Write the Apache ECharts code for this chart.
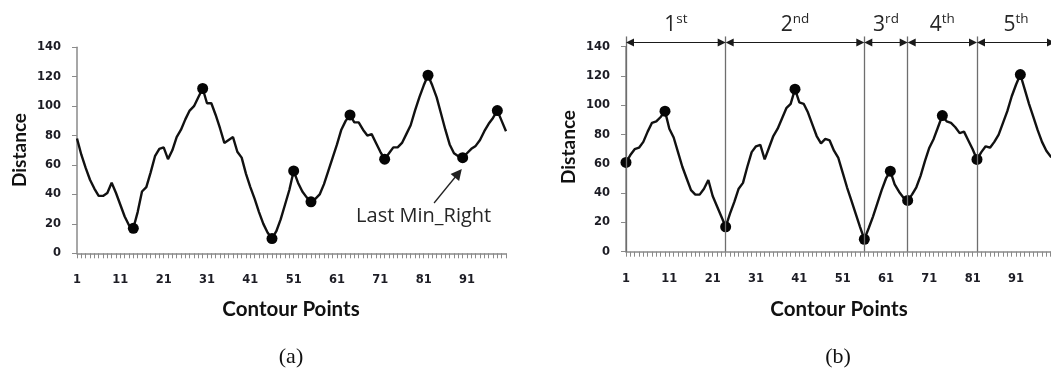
<!DOCTYPE html>
<html>
<head>
<meta charset="utf-8">
<script src="https://cdn.jsdelivr.net/npm/echarts@6/dist/echarts.min.js"></script>
<style>
  html, body { margin: 0; padding: 0; background: #ffffff; }
  #chart { width: 1051px; height: 374px; }
</style>
</head>
<body>
<div id="chart"></div>
<script>
// Contour point numbers shown on the x axis (1 ... 100)
const contourPoints = Array.from({ length: 100 }, (_, i) => String(i + 1));

// Distance ticks on the y axis
const distanceTicks = [0, 20, 40, 60, 80, 100, 120, 140];

// (a) distance profile along the contour
const distanceA = [
  78, 67, 58, 50, 44, 39, 39, 41, 48, 41,
  33, 25, 19, 17, 28, 42, 45, 55, 66, 71,
  72, 64, 70, 79, 84, 91, 97, 100, 106, 112,
  102, 102, 94, 85, 75, 77, 79, 69, 65, 54,
  45, 37, 28, 20, 14, 10, 15, 23, 33, 43,
  56, 48, 42, 38, 35, 37, 40, 47, 56, 65,
  74, 84, 90, 94, 89, 89, 84, 80, 81, 75,
  69, 64, 68, 72, 72, 75, 81, 87, 97, 106,
  114, 121, 114, 106, 95, 84, 74, 68, 66, 65,
  68, 71, 73, 77, 83, 88, 92, 97, 90, 83
];
// (a) local minima / maxima (contour point numbers)
const extremaA = [14, 30, 46, 51, 55, 64, 72, 82, 90, 98];

// (b) distance profile, restarted at the last right minimum
const distanceB = [
  61, 66, 70, 71, 75, 82, 88, 89, 92, 96,
  84, 78, 68, 58, 50, 42, 39, 39, 43, 49,
  38, 31, 24, 17, 26, 34, 43, 47, 58, 68,
  72, 73, 63, 71, 79, 84, 91, 98, 101, 111,
  102, 101, 95, 87, 79, 74, 77, 76, 69, 64,
  54, 44, 35, 26, 17, 8.5, 16, 24, 33, 42,
  50, 55, 46, 41, 37, 35, 39, 44, 52, 62,
  71, 77, 85, 93, 89, 88, 85, 81, 82, 76,
  70, 63, 68, 72, 71, 75, 80, 88, 96, 106,
  114, 121, 111, 101, 92, 83, 75, 69, 65, 64
];
// (b) local minima / maxima
const extremaB = [1, 10, 24, 40, 56, 62, 66, 74, 82, 92];

// (b) segment boundaries and their ordinal names (number, suffix)
const segmentEnds = [1, 24, 56, 66, 82, 100];
const segmentNumbers = ['1', '2', '3', '4', '5'];
const segmentSuffixes = ['st', 'nd', 'rd', 'th', 'th'];

// (a) "Last Min_Right" callout: text anchor, arrow tail and arrow tip (point no., distance)
const calloutText = 'Last Min_Right';
const calloutAnchor = [81.0, 25.4];
const calloutArrow = [[83.4, 34.2], [89.0, 54.4]];

// heights (in distance units) for the segment guides in (b)
const guideTop = 147;
const arrowLevel = 142.8;
const ordinalLevel = 155;
// headroom of the guide layer above the 140 tick
const guideMax = 170;

const tickFont = { fontFamily: 'DejaVu Sans', fontWeight: 'bold', fontSize: 11.5, color: '#1c1c24' };
const axisGray = '#8a8a8a';
const headSize = 8;

// plot boxes: left, width, pixel row of 0 and pixels per distance unit
const boxA = { left: 77, width: 429, zero: 253.3, unit: 206 / 140 };
const boxB = { left: 626, width: 429, zero: 251.7, unit: 205 / 140 };
// arrowheads sit inside their segment: pull the line ends in by half a head
const headInset = (headSize / 2) / (boxB.width / 99);

function plotGrid(box, top) {
  const t = box.zero - top * box.unit;
  return { left: box.left, width: box.width, top: t, height: box.zero - t, outerBoundsMode: 'none', containLabel: false };
}
function categoryAxis(gridIndex) {
  return {
    type: 'category', gridIndex, data: contourPoints, boundaryGap: false,
    axisLine: { lineStyle: { color: axisGray, width: 1.5 } },
    axisTick: { show: true, interval: 0, length: 5, lineStyle: { color: axisGray, width: 1 } },
    axisLabel: Object.assign({ interval: 9, margin: 21 }, tickFont),
    splitLine: { show: false }
  };
}
function hiddenXAxis(gridIndex) {
  return { type: 'value', gridIndex, min: 1, max: 100, show: false };
}
function distanceAxis(gridIndex) {
  return {
    type: 'value', gridIndex, min: distanceTicks[0], max: distanceTicks[distanceTicks.length - 1],
    interval: distanceTicks[1] - distanceTicks[0],
    axisLine: { show: true, lineStyle: { color: axisGray, width: 1.5 } },
    axisTick: { show: true, length: 5, lineStyle: { color: axisGray } },
    axisLabel: Object.assign({ margin: 16 }, tickFont),
    splitLine: { show: false }
  };
}
function profileLine(data, xAxisIndex, yAxisIndex) {
  return {
    type: 'line', xAxisIndex, yAxisIndex, data, symbol: 'none', clip: false,
    lineStyle: { color: '#111', width: 2.4 }, z: 3
  };
}
function extremaDots(idx, data, xAxisIndex, yAxisIndex) {
  return {
    type: 'scatter', xAxisIndex, yAxisIndex, symbol: 'circle', symbolSize: 11,
    itemStyle: { color: '#050505', opacity: 1 }, z: 4,
    data: idx.map(i => [contourPoints[i - 1], data[i - 1]])
  };
}

const chart = echarts.init(document.getElementById('chart'), null, { renderer: 'canvas' });

chart.setOption({
  animation: false,
  backgroundColor: '#ffffff',
  grid: [plotGrid(boxA, 140), plotGrid(boxB, 140), plotGrid(boxB, guideMax)],
  xAxis: [categoryAxis(0), categoryAxis(1), hiddenXAxis(0), hiddenXAxis(2)],
  yAxis: [distanceAxis(0), distanceAxis(1), { type: 'value', gridIndex: 2, min: 0, max: guideMax, show: false }],
  series: [
    profileLine(distanceA, 0, 0),
    extremaDots(extremaA, distanceA, 0, 0),
    {
      // callout arrow and text in (a)
      type: 'line', xAxisIndex: 2, yAxisIndex: 0, data: [], clip: false, silent: true,
      markLine: {
        silent: true, symbol: ['none', 'triangle'], symbolSize: 11,
        label: { show: false },
        lineStyle: { color: '#222', width: 1.3, type: 'solid' },
        data: [[{ coord: calloutArrow[0] }, { coord: calloutArrow[1] }]]
      },
      markPoint: {
        silent: true, symbol: 'circle', symbolSize: 0,
        label: {
          show: true, position: 'inside', formatter: calloutText,
          fontFamily: 'Open Sans', fontSize: 20, color: '#262626'
        },
        data: [{ coord: calloutAnchor }]
      }
    },
    profileLine(distanceB, 1, 1),
    extremaDots(extremaB, distanceB, 1, 1),
    {
      // segment boundaries in (b)
      type: 'line', xAxisIndex: 3, yAxisIndex: 2, data: [], clip: false, silent: true,
      markLine: {
        silent: true, symbol: ['none', 'none'],
        label: { show: false },
        lineStyle: { color: '#6e6e6e', width: 1.3, type: 'solid' },
        data: segmentEnds.slice(0, -1).map(i => [{ coord: [i, 0] }, { coord: [i, guideTop] }])
      }
    },
    {
      // double-headed arrows spanning each segment in (b)
      type: 'line', xAxisIndex: 3, yAxisIndex: 2, data: [], clip: false, silent: true,
      markLine: {
        silent: true, symbol: ['triangle', 'triangle'], symbolSize: headSize,
        label: { show: false },
        lineStyle: { color: '#1a1a1a', width: 1.2, type: 'solid' },
        data: segmentNumbers.map((n, k) => [
          { coord: [segmentEnds[k] + headInset, arrowLevel] },
          { coord: [segmentEnds[k + 1] - headInset, arrowLevel] }
        ])
      }
    },
    {
      // ordinal names above the segments in (b)
      type: 'line', xAxisIndex: 3, yAxisIndex: 2, data: [], clip: false, silent: true,
      markPoint: {
        silent: true, symbol: 'circle', symbolSize: 0,
        label: {
          show: true, position: 'inside',
          formatter: p => '{n|' + segmentNumbers[p.dataIndex] + '}{s|' + segmentSuffixes[p.dataIndex] + '}',
          rich: {
            n: { fontFamily: 'Open Sans', fontSize: 21, lineHeight: 26, color: '#262626' },
            s: { fontFamily: 'Open Sans', fontSize: 13.5, lineHeight: 14, verticalAlign: 'top', color: '#262626' }
          }
        },
        data: segmentNumbers.map((n, k) => ({
          coord: [(segmentEnds[k] + segmentEnds[k + 1]) / 2, ordinalLevel]
        }))
      }
    }
  ],
  graphic: [
    { type: 'text', x: 19.5, y: 150, rotation: Math.PI / 2,
      style: { text: 'Distance', font: 'bold 19px Lato', fill: '#111', align: 'center', verticalAlign: 'middle' } },
    { type: 'text', x: 569, y: 147, rotation: Math.PI / 2,
      style: { text: 'Distance', font: 'bold 19px Lato', fill: '#111', align: 'center', verticalAlign: 'middle' } },
    { type: 'text', x: 291, y: 309,
      style: { text: 'Contour Points', font: 'bold 20.5px Lato', fill: '#111', align: 'center', verticalAlign: 'middle' } },
    { type: 'text', x: 839, y: 309,
      style: { text: 'Contour Points', font: 'bold 20.5px Lato', fill: '#111', align: 'center', verticalAlign: 'middle' } },
    { type: 'text', x: 291, y: 357,
      style: { text: '(a)', font: '22px "Liberation Serif"', fill: '#111', align: 'center', verticalAlign: 'middle' } },
    { type: 'text', x: 838, y: 357,
      style: { text: '(b)', font: '22px "Liberation Serif"', fill: '#111', align: 'center', verticalAlign: 'middle' } }
  ]
});
</script>
</body>
</html>
